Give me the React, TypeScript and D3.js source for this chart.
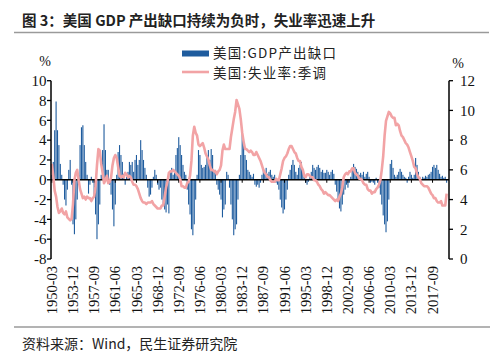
import React from "react";
import * as d3 from "d3";

const startYear = 1950;
const endYear = 2020;
const monthOfQuarter = ["03", "06", "09", "12"];

// GDP output gap (%), quarterly 1950Q1 - 2020Q1
const gapValues: number[] = [
  0.5, 1.8, 5.0, 7.9,
  5.0, 3.5, 1.6, 0.5,
  -0.5, -2.0, -2.6, -1.0,
  1.0, 2.0, -0.5, -4.5,
  -5.5, -4.0, -2.0, 0.5,
  3.5, 5.3, 5.5, 3.5,
  1.8, 0.5, -1.4, -0.5,
  0.3, -0.3, -1.5, -3.5,
  -6.0, -4.5, -2.5, 0.5,
  3.0, 5.6, 3.0, 1.0,
  1.0, -0.5, -1.5, -3.0,
  -4.7, -2.5, 0.5, 2.8,
  3.5, 2.5, 1.8, 0.6,
  -0.5, 0.3, 0.8, 1.8,
  1.5, 1.8, 0.8, 2.0,
  2.5, 1.5, 2.0, 4.0,
  3.0, 2.0, 1.2, 0.5,
  -0.8, -1.7, -1.5, -0.8,
  0.3, 1.0, 0.5, -0.5,
  -1.0, -0.8, -2.0, -2.5,
  -3.0, -3.3, -2.5, -3.4,
  0.8, 1.2, 0.5, 1.0,
  2.5, 3.2, 4.3, 3.5,
  2.5, 1.5, 0.8, 0.5,
  -1.0, -2.5, -3.5, -5.0,
  -5.6, -4.5, -2.0, 0.5,
  3.0, 2.5, 1.5, 1.2,
  1.3, 1.5, 2.5, 3.0,
  2.0, 3.1, 2.5, 1.0,
  1.0, -0.5, -1.0, -1.5,
  -2.0, -3.8, -3.0, -2.5,
  0.8, 0.5, -0.8, -2.5,
  -4.0, -5.6, -5.0, -4.5,
  -2.0, 0.5, 2.5, 5.2,
  3.8, 2.5, 2.0, 1.0,
  0.8, 0.5, 0.3, 0.6,
  -0.5, -0.7, -0.5, -0.8,
  -0.3, 0.5, 1.1, 0.8,
  1.2, 0.6, 0.8, 1.0,
  0.5, 0.3, 0.5, -0.3,
  -0.5, -1.0, -2.0, -2.8,
  -3.4, -3.0, -2.0, -1.0,
  0.5, 1.0, 1.5, 2.0,
  1.5, 0.8, 0.5, 1.2,
  1.5, 1.8, 0.8, 0.3,
  -0.3, -0.5, -0.2, 0.3,
  0.8, 1.5, 1.2, 1.0,
  1.3, 1.5, 1.2, 0.8,
  1.0, 0.7, 0.7, 1.0,
  0.8, 0.5, 0.8, 1.0,
  0.6, -0.5, -1.2, -2.1,
  -2.9, -3.2, -2.5, -1.5,
  -1.0, -0.5, -0.8, -0.3,
  0.3, 1.0, 1.6, 1.3,
  1.1, 0.8, 0.5, 0.7,
  0.5, 0.8, 0.3, 0.6,
  0.8, 0.3, -0.3, -0.2,
  -0.3, -0.5, 0.2, -0.3,
  -0.8, -1.5, -2.5, -3.6,
  -4.5, -5.3, -4.2, -2.0,
  1.6, 2.0, 1.2, 0.5,
  0.3, 0.5, 0.8, 1.1,
  0.8, 0.5, 0.3, 0.2,
  -0.3, 0.3, 0.8, 0.5,
  0.2, 0.5, 2.2, 1.5,
  0.8, 0.3, -0.2, 0.3,
  0.2, 0.4, 0.3, 0.5,
  0.6, 0.8, 1.3, 1.5,
  1.2, 1.5, 1.0, 0.6,
  0.3, 0.4, 0.2, 0.3,
  -0.3,
];

// US unemployment rate, seasonally adjusted (%), quarterly 1950Q1 - 2020Q1
const unempValues: number[] = [
  6.4, 5.6, 4.6, 4.2,
  3.5, 3.1, 3.2, 3.4,
  3.1, 3.0, 3.2, 2.8,
  2.7, 2.6, 2.7, 3.7,
  5.3, 5.8, 6.0, 5.3,
  4.7, 4.4, 4.1, 4.2,
  4.0, 4.2, 4.1, 4.1,
  3.9, 4.1, 4.2, 4.9,
  6.3, 7.4, 7.3, 6.4,
  5.8, 5.1, 5.3, 5.6,
  5.1, 5.2, 5.5, 6.3,
  6.8, 7.0, 6.8, 6.2,
  5.6, 5.5, 5.6, 5.5,
  5.8, 5.7, 5.5, 5.6,
  5.5, 5.2, 5.0, 5.0,
  4.9, 4.7, 4.4, 4.1,
  3.9, 3.8, 3.8, 3.7,
  3.8, 3.8, 3.8, 3.9,
  3.7, 3.6, 3.5, 3.4,
  3.4, 3.4, 3.6, 3.6,
  4.2, 4.8, 5.2, 5.8,
  5.9, 5.9, 6.0, 5.9,
  5.8, 5.7, 5.6, 5.4,
  4.9, 4.9, 4.8, 4.8,
  5.1, 5.2, 5.6, 6.6,
  8.3, 8.9, 8.5, 8.3,
  7.7, 7.6, 7.7, 7.8,
  7.5, 7.1, 6.9, 6.7,
  6.3, 6.0, 6.0, 5.9,
  5.9, 5.7, 5.9, 6.0,
  6.3, 7.3, 7.7, 7.4,
  7.4, 7.4, 7.4, 8.2,
  8.8, 9.4, 9.9, 10.7,
  10.4, 10.1, 9.4, 8.5,
  7.9, 7.4, 7.4, 7.3,
  7.2, 7.3, 7.2, 7.0,
  7.0, 7.2, 7.0, 6.8,
  6.6, 6.3, 6.0, 5.8,
  5.7, 5.5, 5.5, 5.3,
  5.2, 5.2, 5.2, 5.4,
  5.3, 5.3, 5.7, 6.1,
  6.6, 6.8, 6.9, 7.1,
  7.4, 7.6, 7.6, 7.4,
  7.2, 7.1, 6.8, 6.6,
  6.6, 6.2, 6.0, 5.6,
  5.5, 5.7, 5.7, 5.6,
  5.5, 5.5, 5.3, 5.3,
  5.2, 5.0, 4.9, 4.7,
  4.6, 4.4, 4.5, 4.4,
  4.3, 4.3, 4.2, 4.1,
  4.0, 3.9, 4.0, 3.9,
  4.2, 4.4, 4.8, 5.5,
  5.7, 5.8, 5.7, 5.9,
  5.9, 6.1, 6.1, 5.8,
  5.7, 5.6, 5.4, 5.4,
  5.3, 5.1, 5.0, 5.0,
  4.7, 4.6, 4.6, 4.4,
  4.5, 4.5, 4.7, 4.8,
  5.0, 5.3, 6.0, 6.9,
  8.3, 9.3, 9.6, 9.9,
  9.8, 9.6, 9.5, 9.5,
  9.0, 9.1, 9.0, 8.6,
  8.3, 8.2, 8.0, 7.8,
  7.7, 7.5, 7.2, 6.9,
  6.6, 6.2, 6.1, 5.7,
  5.5, 5.4, 5.1, 5.0,
  4.9, 4.9, 4.9, 4.8,
  4.6, 4.4, 4.3, 4.1,
  4.1, 3.9, 3.8, 3.8,
  3.9, 3.6, 3.6, 3.6,
  4.4,
];

const quarters: string[] = [];
for (let y = startYear; y <= endYear; y++) {
  for (let q = 0; q < 4; q++) {
    if (quarters.length < gapValues.length) quarters.push(`${y}-${monthOfQuarter[q]}`);
  }
}

const xTickLabels = [
  "1950-03", "1953-12", "1957-09", "1961-06", "1965-03", "1968-12", "1972-09",
  "1976-06", "1980-03", "1983-12", "1987-09", "1991-06", "1995-03", "1998-12",
  "2002-09", "2006-06", "2010-03", "2013-12", "2017-09",
];
const leftTicks = [-8, -6, -4, -2, 0, 2, 4, 6, 8, 10];
const rightTicks = [0, 2, 4, 6, 8, 10, 12];

const titleText = "图 3：美国 GDP 产出缺口持续为负时，失业率迅速上升";
const sourceText = "资料来源：Wind，民生证券研究院";
const legendGap = "美国:GDP产出缺口";
const legendUnemp = "美国:失业率:季调";

const BAR = "#1f5c9e";
const LINE = "#f2a3a5";
const serif = "'Liberation Serif', 'DejaVu Serif', serif";
const cjk = "'Noto Sans CJK SC', sans-serif";

export default function App() {
  const W = 500, H = 358;
  const left = 51, right = 449, top = 80.7, bottom = 259;
  const x = d3.scaleBand<string>().domain(quarters).range([left, 447.5]).padding(0.22);
  const yL = d3.scaleLinear().domain([-8, 10]).range([bottom, top]);
  const yR = d3.scaleLinear().domain([0, 12]).range([bottom, top]);
  const cx = (q: string) => (x(q) as number) + x.bandwidth() / 2;

  const line = d3
    .line<number>()
    .x((_, i) => cx(quarters[i]))
    .y((d) => yR(d))
    .curve(d3.curveLinear);

  return (
    <svg width={W} height={H} style={{ display: "block", position: "absolute", left: 0, top: 0 }}>
      <rect width={W} height={H} fill="#fff" />
      <text x={22} y={25.5} fontFamily={cjk} fontWeight={700} fontSize={14.5} fill="#222">
        {titleText}
      </text>
      <line x1={14} x2={489} y1={32.5} y2={32.5} stroke="#9a9a9a" strokeWidth={1.5} />

      {/* bars */}
      {gapValues.map((v, i) => (
        <rect
          key={i}
          x={x(quarters[i]) as number}
          width={x.bandwidth()}
          y={Math.min(yL(v), yL(0))}
          height={Math.abs(yL(v) - yL(0))}
          fill={BAR}
        />
      ))}

      {/* x axis baseline */}
      <line x1={left} x2={right} y1={yL(0)} y2={yL(0)} stroke="#000" strokeWidth={1.5} />
      {xTickLabels.map((t) => (
        <line key={"xt" + t} x1={cx(t)} x2={cx(t)} y1={yL(0)} y2={yL(0) + 3} stroke="#000" strokeWidth={1} />
      ))}

      {/* unemployment line */}
      <path d={line(unempValues) as string} fill="none" stroke={LINE} strokeWidth={2.6} strokeLinejoin="round" />

      {/* left axis */}
      <line x1={left} x2={left} y1={top} y2={bottom} stroke="#000" strokeWidth={1.5} />
      {leftTicks.map((t) => (
        <g key={"l" + t}>
          <line x1={left - 4} x2={left} y1={yL(t)} y2={yL(t)} stroke="#000" strokeWidth={1.3} />
          <text x={46.5} y={yL(t)} dy="0.35em" textAnchor="end" fontFamily={serif} fontSize={15} fill="#111">
            {t}
          </text>
        </g>
      ))}
      <text x={45} y={66} textAnchor="middle" fontFamily={serif} fontSize={14} fill="#111">%</text>

      {/* right axis */}
      <line x1={right} x2={right} y1={top} y2={bottom} stroke="#000" strokeWidth={1.5} />
      {rightTicks.map((t) => (
        <g key={"r" + t}>
          <line x1={right} x2={right + 4} y1={yR(t)} y2={yR(t)} stroke="#000" strokeWidth={1.3} />
          <text x={460} y={yR(t)} dy="0.35em" textAnchor="start" fontFamily={serif} fontSize={15} fill="#111">
            {t}
          </text>
        </g>
      ))}
      <text x={458} y={68} textAnchor="middle" fontFamily={serif} fontSize={14} fill="#111">%</text>

      {/* x tick labels */}
      {xTickLabels.map((t) => (
        <text
          key={"xl" + t}
          transform={`translate(${cx(t)},266) rotate(-90)`}
          dy="0.35em"
          textAnchor="end"
          fontFamily={serif}
          fontSize={14.5}
          fill="#111"
        >
          {t}
        </text>
      ))}

      {/* legend */}
      <rect x={182} y={50.5} width={27} height={6} fill={BAR} />
      <text x={213} y={57.5} fontFamily={cjk} fontSize={13.5} textLength={123} lengthAdjust="spacing" fill="#222">{legendGap}</text>
      <line x1={182} x2={209} y1={72} y2={72} stroke={LINE} strokeWidth={2.6} />
      <text x={213} y={77.5} fontFamily={cjk} fontSize={13.5} textLength={113} lengthAdjust="spacing" fill="#222">{legendUnemp}</text>

      {/* footer */}
      <line x1={14} x2={490} y1={327} y2={327} stroke="#9a9a9a" strokeWidth={1.5} />
      <text x={22} y={349} fontFamily={cjk} fontSize={14} fill="#222">{sourceText}</text>
    </svg>
  );
}
